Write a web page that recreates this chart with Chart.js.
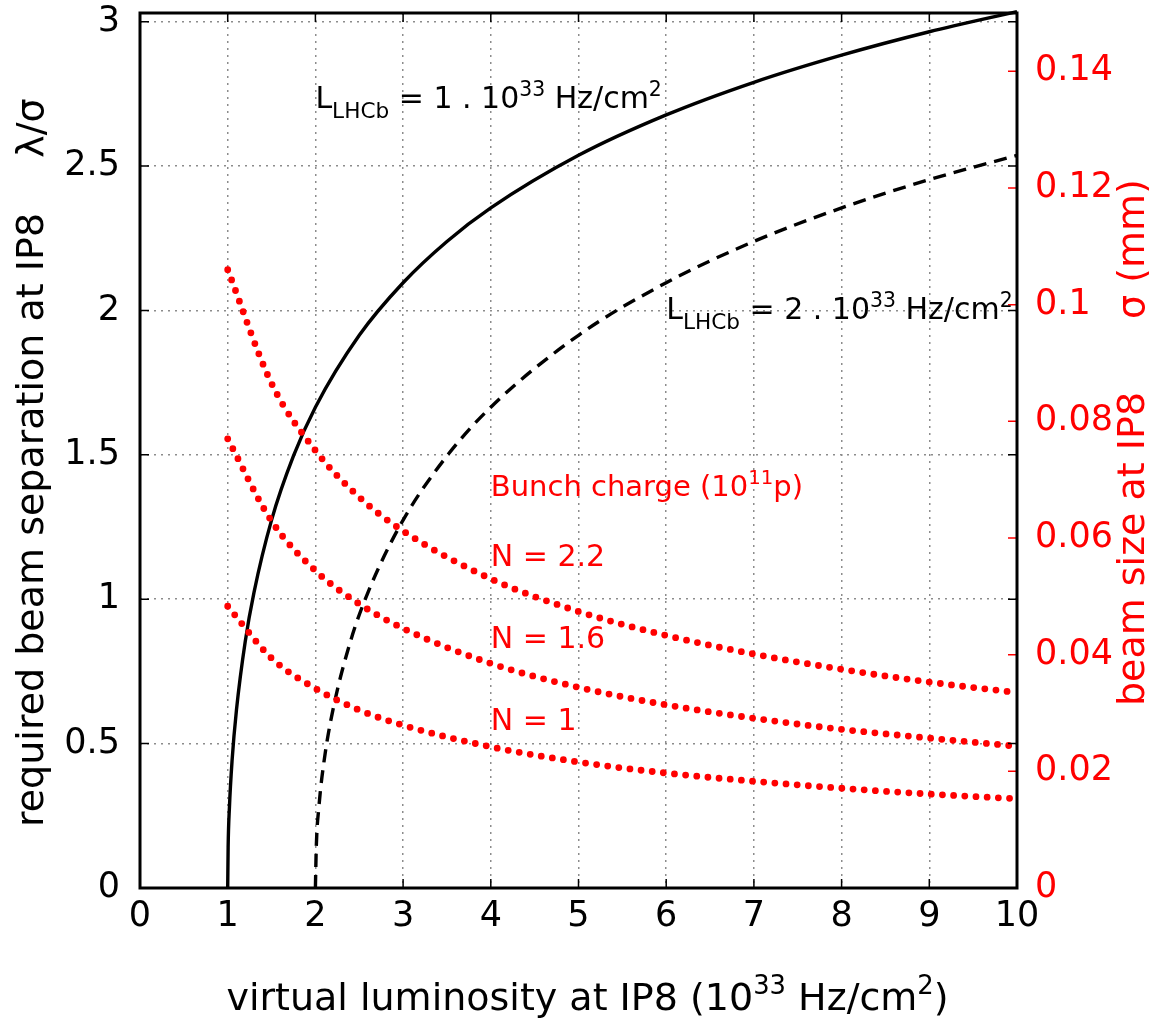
<!DOCTYPE html>
<html>
<head>
<meta charset="utf-8">
<script src="https://cdn.jsdelivr.net/npm/chart.js@4.4.0/dist/chart.umd.min.js"></script>
<style>
  html, body { margin: 0; padding: 0; background: #fff; }
  #wrap { width: 1149px; height: 1032px; position: relative; }
</style>
</head>
<body>
<div id="wrap"><canvas id="c"></canvas></div>
<script>
// ---- data ----
const xTickValues = [0, 1, 2, 3, 4, 5, 6, 7, 8, 9, 10];
const leftTickValues = [0, 0.5, 1, 1.5, 2, 2.5, 3];
const rightTickValues = [0, 0.02, 0.04, 0.06, 0.08, 0.1, 0.12, 0.14];

// L_LHCb = 1e33 : required separation lambda/sigma
const lumSolid = [1, 1.005, 1.02, 1.05, 1.1, 1.2, 1.3, 1.5, 1.75, 2, 2.5, 3, 3.5, 4, 5, 6, 7, 8, 9, 10];
const sepSolid = [0, 0.141, 0.281, 0.442, 0.617, 0.854, 1.024, 1.274, 1.496, 1.665, 1.914, 2.096, 2.239, 2.355, 2.537, 2.677, 2.790, 2.884, 2.965, 3.035];

// L_LHCb = 2e33
const lumDashed = [2, 2.01, 2.04, 2.1, 2.2, 2.4, 2.6, 3, 3.5, 4, 5, 6, 7, 8, 9, 10];
const sepDashed = [0, 0.141, 0.281, 0.442, 0.617, 0.854, 1.024, 1.274, 1.496, 1.665, 1.914, 2.096, 2.239, 2.355, 2.453, 2.537];

// beam size sigma (mm) vs virtual luminosity, for three bunch charges
const lumBeam = [1, 1.5, 2, 2.5, 3, 4, 5, 6, 7, 8, 9, 10];
const sigmaN22 = [0.106, 0.0865, 0.075, 0.067, 0.0612, 0.053, 0.0474, 0.0433, 0.0401, 0.0375, 0.0353, 0.0335];
const sigmaN16 = [0.077, 0.0629, 0.0544, 0.0487, 0.0445, 0.0385, 0.0344, 0.0314, 0.0291, 0.0272, 0.0257, 0.0243];
const sigmaN10 = [0.0483, 0.0394, 0.0342, 0.0305, 0.0279, 0.0242, 0.0216, 0.0197, 0.0183, 0.0171, 0.0161, 0.0153];

// ---- helpers ----
const FONT = "'DejaVu Sans'";
const RED = '#ff0000';
const pts = (xs, ys) => xs.map((x, i) => ({ x: x, y: ys[i] }));
const fmt = v => String(Number(v.toFixed(3)));

function richWidth(ctx, parts, size) {
  let w = 0;
  parts.forEach(p => { ctx.font = (size * (p.s || 1)) + 'px ' + FONT; w += ctx.measureText(p.t).width; });
  return w;
}
function drawRich(ctx, x, y, parts, size, color, align) {
  ctx.save();
  ctx.fillStyle = color;
  ctx.textBaseline = 'alphabetic';
  ctx.textAlign = 'left';
  let cx = x;
  if (align === 'center') cx = x - richWidth(ctx, parts, size) / 2;
  parts.forEach(p => {
    ctx.font = (size * (p.s || 1)) + 'px ' + FONT;
    ctx.fillText(p.t, cx, y + (p.dy || 0) * size);
    cx += ctx.measureText(p.t).width;
  });
  ctx.restore();
}

const SUB = 0.72, SUP = 0.68;
const annotations = [
  { x: 2.0, y: 2.70, size: 30, color: '#000', parts: [
      { t: 'L' }, { t: 'LHCb', s: SUB, dy: 0.32 }, { t: ' = 1 . 10' }, { t: '33', s: SUP, dy: -0.42 },
      { t: ' Hz/cm' }, { t: '2', s: SUP, dy: -0.42 } ] },
  { x: 6.0, y: 1.97, size: 30, color: '#000', parts: [
      { t: 'L' }, { t: 'LHCb', s: SUB, dy: 0.32 }, { t: ' = 2 . 10' }, { t: '33', s: SUP, dy: -0.42 },
      { t: ' Hz/cm' }, { t: '2', s: SUP, dy: -0.42 } ] },
  { x: 4.0, y: 1.358, size: 29, color: RED, parts: [
      { t: 'Bunch charge (10' }, { t: '11', s: SUP, dy: -0.42 }, { t: 'p)' } ] },
  { x: 4.0, y: 1.115, size: 30, color: RED, parts: [{ t: 'N = 2.2' }] },
  { x: 4.0, y: 0.831, size: 30, color: RED, parts: [{ t: 'N = 1.6' }] },
  { x: 4.0, y: 0.547, size: 30, color: RED, parts: [{ t: 'N = 1' }] }
];

const textPlugin = {
  id: 'texts',
  afterDatasetsDraw(chart) {
    const ctx = chart.ctx;
    const xs = chart.scales.x, ys = chart.scales.y;
    annotations.forEach(a => {
      drawRich(ctx, xs.getPixelForValue(a.x), ys.getPixelForValue(a.y), a.parts, a.size, a.color, 'left');
    });
  }
};

const TITLE = 38;
const titlePlugin = {
  id: 'titles',
  afterDraw(chart) {
    const ctx = chart.ctx;
    const area = chart.chartArea;
    // bottom title
    drawRich(ctx, (area.left + area.right) / 2 + 9, 1010, [
      { t: 'virtual luminosity at IP8 (10' }, { t: '33', s: SUP, dy: -0.42 }, { t: ' Hz/cm' },
      { t: '2', s: SUP, dy: -0.42 }, { t: ')' } ], TITLE, '#000', 'center');
    // left titles (rotated)
    ctx.save();
    ctx.translate(43, 520);
    ctx.rotate(-Math.PI / 2);
    drawRich(ctx, 0, 0, [{ t: 'required beam separation at IP8' }], TITLE, '#000', 'center');
    ctx.restore();
    ctx.save();
    ctx.translate(43, 128);
    ctx.rotate(-Math.PI / 2);
    drawRich(ctx, 0, 0, [{ t: '\u03bb/\u03c3' }], TITLE, '#000', 'center');
    ctx.restore();
    // right titles (rotated)
    ctx.save();
    ctx.translate(1144, 549);
    ctx.rotate(-Math.PI / 2);
    drawRich(ctx, 0, 0, [{ t: 'beam size at IP8' }], TITLE, RED, 'center');
    ctx.restore();
    ctx.save();
    ctx.translate(1144, 249);
    ctx.rotate(-Math.PI / 2);
    drawRich(ctx, 0, 0, [{ t: '\u03c3 (mm)' }], TITLE, RED, 'center');
    ctx.restore();
  }
};

const framePlugin = {
  id: 'frame',
  afterDatasetsDraw(chart) {
    const { ctx, chartArea: a, scales } = chart;
    const L = 9;
    ctx.save();
    ctx.lineWidth = 1.5;
    ctx.strokeStyle = '#000';
    ctx.beginPath();
    scales.x.ticks.forEach(t => {
      const px = scales.x.getPixelForValue(t.value);
      ctx.moveTo(px, a.bottom); ctx.lineTo(px, a.bottom - L);
      ctx.moveTo(px, a.top); ctx.lineTo(px, a.top + L);
    });
    scales.y.ticks.forEach(t => {
      const py = scales.y.getPixelForValue(t.value);
      ctx.moveTo(a.left, py); ctx.lineTo(a.left + L, py);
      ctx.moveTo(a.right, py); ctx.lineTo(a.right - L, py);
    });
    ctx.stroke();
    ctx.strokeStyle = RED;
    ctx.beginPath();
    scales.y2.ticks.forEach(t => {
      const py = scales.y2.getPixelForValue(t.value);
      ctx.moveTo(a.right, py); ctx.lineTo(a.right - L, py);
    });
    ctx.stroke();
    ctx.lineWidth = 3;
    ctx.strokeStyle = '#000';
    ctx.strokeRect(a.left, a.top, a.right - a.left, a.bottom - a.top);
    ctx.restore();
  }
};

const dotted = (data) => ({
  data: data, yAxisID: 'y2', showLine: true, pointRadius: 0, borderColor: RED,
  borderWidth: 6.8, borderDash: [0, 11.2], borderCapStyle: 'round',
  cubicInterpolationMode: 'monotone', clip: false
});

const gridColor = (ctx) => {
  const v = ctx.tick ? ctx.tick.value : null;
  return (v === 0 || v === 10) ? 'rgba(0,0,0,0)' : '#8c8c8c';
};
const noPad = s => { s.paddingTop = 0; s.paddingBottom = 0; s.paddingLeft = 0; s.paddingRight = 0; };

new Chart(document.getElementById('c'), {
  type: 'scatter',
  data: {
    datasets: [
      dotted(pts(lumBeam, sigmaN22)),
      dotted(pts(lumBeam, sigmaN16)),
      dotted(pts(lumBeam, sigmaN10)),
      { data: pts(lumSolid, sepSolid), yAxisID: 'y', showLine: true, pointRadius: 0,
        borderColor: '#000', borderWidth: 3.4, cubicInterpolationMode: 'monotone', clip: false },
      { data: pts(lumDashed, sepDashed), yAxisID: 'y', showLine: true, pointRadius: 0,
        borderColor: '#000', borderWidth: 3.4, borderDash: [13, 8], cubicInterpolationMode: 'monotone', clip: false }
    ]
  },
  options: {
    responsive: true,
    maintainAspectRatio: false,
    animation: false,
    events: [],
    layout: { padding: { top: 13, left: 0, right: 0, bottom: 0 } },
    plugins: { legend: { display: false }, tooltip: { enabled: false } },
    scales: {
      x: {
        type: 'linear', position: 'bottom', min: 0, max: 10,
        afterBuildTicks: s => { s.ticks = xTickValues.map(v => ({ value: v })); },
        afterFit: s => { s.height = 144; noPad(s); },
        ticks: { color: '#000', font: { family: FONT, size: 35 }, padding: 8, maxRotation: 0, autoSkip: false,
                 callback: v => fmt(v) },
        grid: { color: gridColor, lineWidth: 1.5, drawTicks: false },
        border: { display: false, dash: [2, 5] }
      },
      y: {
        type: 'linear', position: 'left', min: 0, max: 3.03,
        afterBuildTicks: s => { s.ticks = leftTickValues.map(v => ({ value: v })); },
        afterFit: s => { s.width = 140; noPad(s); },
        ticks: { color: '#000', font: { family: FONT, size: 35 }, padding: 20, autoSkip: false,
                 callback: v => fmt(v) },
        grid: { color: gridColor, lineWidth: 1.5, drawTicks: false },
        border: { display: false, dash: [2, 5] }
      },
      y2: {
        type: 'linear', position: 'right', min: 0, max: 0.15,
        afterBuildTicks: s => { s.ticks = rightTickValues.map(v => ({ value: v })); },
        afterFit: s => { s.width = 132; noPad(s); },
        ticks: { color: RED, font: { family: FONT, size: 35 }, padding: 18, autoSkip: false,
                 callback: v => fmt(v) },
        grid: { display: false, drawTicks: false },
        border: { display: false }
      }
    }
  },
  plugins: [framePlugin, textPlugin, titlePlugin]
});
</script>
</body>
</html>
